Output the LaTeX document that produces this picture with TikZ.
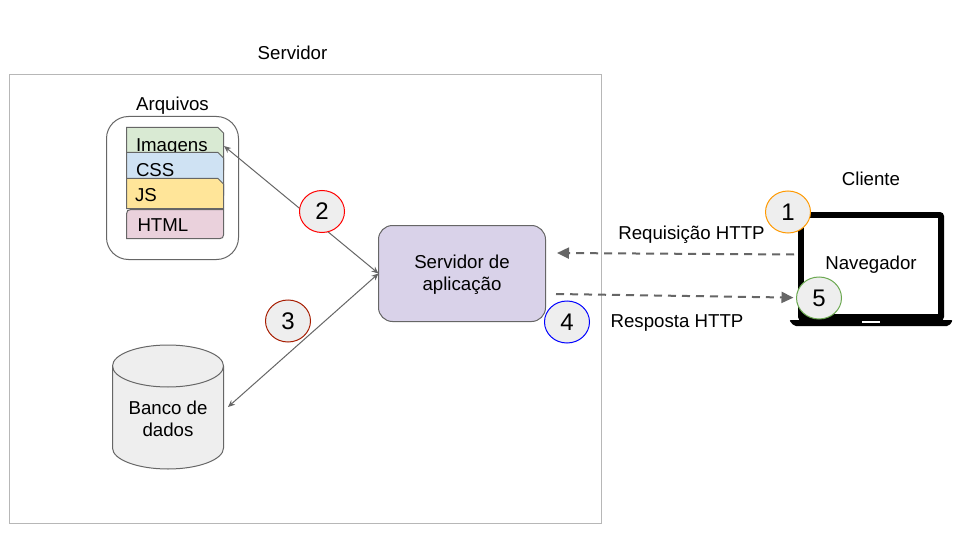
\documentclass[tikz,border=0pt]{standalone}
\usepackage{fontspec}
\setmainfont{Liberation Sans}
\usetikzlibrary{arrows.meta,shapes.geometric}
\definecolor{edgegray}{HTML}{666666}
\definecolor{dashgray}{HTML}{666666}
\definecolor{frame}{HTML}{B7B7B7}
\definecolor{disc}{HTML}{EEEEEE}
\definecolor{appfill}{HTML}{D9D2E9}
\definecolor{imgfill}{HTML}{D9EAD3}
\definecolor{cssfill}{HTML}{CFE2F3}
\definecolor{jsfill}{HTML}{FFE599}
\definecolor{htmlfill}{HTML}{EAD1DC}
\definecolor{ringone}{HTML}{FF9900}
\definecolor{ringtwo}{HTML}{FF0000}
\definecolor{ringthree}{HTML}{A61C00}
\definecolor{ringfour}{HTML}{0000FF}
\definecolor{ringfive}{HTML}{6AA84F}
\tikzset{
  x=1pt,y=-1pt,
  every node/.style={inner sep=0pt,outer sep=0pt,align=center,font=\fontsize{18.67}{22}\selectfont},
  label/.style={text=black},
  stacklabel/.style={anchor=base west},
  stackbox/.style={draw=edgegray,line width=1pt},
  step disc/.style={ellipse,draw=#1,fill=disc,line width=1pt,minimum width=45pt,minimum height=42pt,font=\fontsize{24}{28}\selectfont},
  solidlink/.style={draw=edgegray,line width=1pt,{Stealth[length=7pt,width=6pt]}-{Stealth[length=7pt,width=6pt]}},
  dashlink/.style={draw=dashgray,line width=2pt,dash pattern=on 8pt off 6pt,-{Triangle[length=12pt,width=11pt,fill=dashgray]}},
}
\begin{document}
\begin{tikzpicture}
\useasboundingbox (0,0) rectangle (960,540);
\fill[white] (0,0) rectangle (960,540);
% server frame
\node[draw=frame,line width=1pt,minimum width=592pt,minimum height=449pt] (server) at (305.5,299) {};
\node[label] (servertitle) at (292.5,53) {Servidor};
% files
\node[draw=edgegray,line width=1pt,rounded corners=22pt,minimum width=132pt,minimum height=143pt] (files) at (172.5,188) {};
\node[label] (filestitle) at (172.5,106) {Arquivos};
\coordinate (filesport) at (224,146);
\draw[stackbox,fill=imgfill] (126.5,127.5) -- (218,127.5) -- (223.5,133) -- (223.5,170) -- (126.5,170) -- cycle;
\node[stacklabel] (imagens) at (136,152) {Imagens};
\draw[stackbox,fill=cssfill] (126.5,152.5) -- (218,152.5) -- (223.5,158) -- (223.5,195) -- (126.5,195) -- cycle;
\node[stacklabel] (css) at (136,176) {CSS};
\draw[stackbox,fill=jsfill] (126.5,178.5) -- (218,178.5) -- (223.5,184) -- (223.5,208.5) -- (126.5,208.5) -- cycle;
\node[stacklabel] (js) at (135,201.5) {JS};
\draw[stackbox,fill=htmlfill] (131,209.5) -- (223.5,209.5) -- (223.5,235) .. controls (223.5,237.5) and (222,238.5) .. (220,238.5) -- (126.5,238.5) -- (126.5,214) .. controls (126.5,211) and (128,209.5) .. (131,209.5) -- cycle;
\node[stacklabel] (htmltext) at (137.5,231.5) {HTML};
% database
\draw[draw=edgegray,line width=1pt,fill=disc] (112.5,366) arc[start angle=180,end angle=0,x radius=55.5pt,y radius=21pt] -- (223.5,448) arc[start angle=0,end angle=180,x radius=55.5pt,y radius=-21pt] -- cycle;
\draw[draw=edgegray,line width=1pt] (112.5,366) arc[start angle=180,end angle=360,x radius=55.5pt,y radius=21pt];
\node[label] (db) at (168,418.5) {Banco de\\dados};
\coordinate (dbport) at (228,407);
% application server
\node[draw=edgegray,fill=appfill,line width=1pt,rounded corners=14pt,minimum width=167pt,minimum height=96pt] (app) at (462,273.5) {};
\node[label] (apptext) at (462,275) {Servidor de\\aplicação};
% links
\draw[solidlink] (filesport) -- (app.west);
\draw[solidlink] (dbport) -- (app.west);
% laptop
\fill[black,rounded corners=4pt] (798,321) -- (798,212) -- (944,212) -- (944,321) -- cycle;
\fill[black,rounded corners=2pt] (789,320) -- (953,320) -- (949,326) -- (794,326) -- cycle;
\fill[white] (803.5,218) rectangle (938,313.5);
\fill[white] (862,321) rectangle (880,322.5);
\node[label] (browser) at (871,265) {Navegador};
\node[label] (clienttitle) at (871,179) {Cliente};
% discs
\node[step disc=ringone] (s1) at (788,212) {1};
\node[step disc=ringtwo] (s2) at (322,211.5) {2};
\node[step disc=ringthree] (s3) at (288,321) {3};
\node[step disc=ringfour] (s4) at (567,322) {4};
\node[step disc=ringfive] (s5) at (819,298) {5};
% http
\coordinate (appreq) at (557,253);
\coordinate (appres) at (556,294);
\coordinate (nav) at (794,254.5);
\draw[dashlink] (nav) -- (appreq);
\draw[dashlink,shorten >=3pt] (appres) -- (s5);
\node[label] (req) at (691.5,235) {Requisição HTTP};
\node[label] (res) at (677,323) {Resposta HTTP};
\end{tikzpicture}
\end{document}
